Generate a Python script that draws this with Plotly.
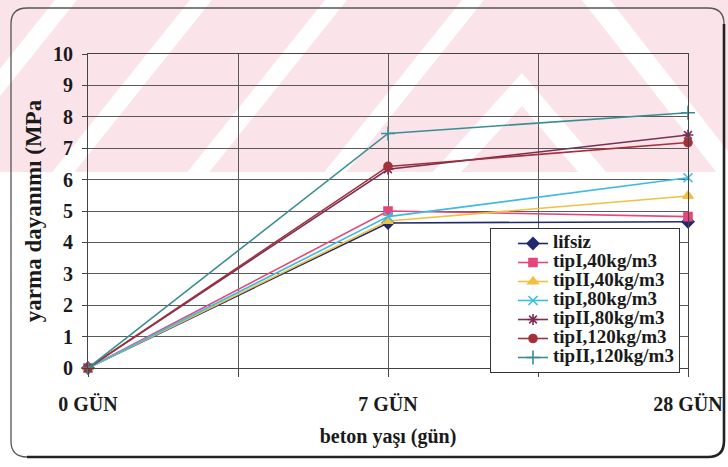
import plotly.graph_objects as go

# Splitting tensile strength of concrete vs. age, per fibre type and dosage
ages = [0, 1, 2]
age_labels = ["0 GÜN", "7 GÜN", "28 GÜN"]

lifsiz = [0.0, 4.62, 4.66]
tip1_40 = [0.0, 5.00, 4.82]
tip2_40 = [0.0, 4.68, 5.48]
tip1_80 = [0.0, 4.82, 6.06]
tip2_80 = [0.0, 6.33, 7.42]
tip1_120 = [0.0, 6.42, 7.18]
tip2_120 = [0.0, 7.47, 8.13]

series = [
    ("lifsiz", lifsiz, "#1f2a6e", "diamond", 9),
    ("tipI,40kg/m3", tip1_40, "#e5467c", "square", 8),
    ("tipII,40kg/m3", tip2_40, "#f0c040", "triangle-up", 9),
    ("tipI,80kg/m3", tip1_80, "#3cbde0", "x-thin", 9),
    ("tipII,80kg/m3", tip2_80, "#7a2f55", "asterisk", 9),
    ("tipI,120kg/m3", tip1_120, "#a3303a", "circle", 8),
    ("tipII,120kg/m3", tip2_120, "#3a8e92", "cross-thin", 10),
]

W, H = 728, 467
ML, MR, MT, MB = 88, 40, 54, 99
PW, PH = W - ML - MR, H - MT - MB


def px(x, y):
    """Pixel position on the page -> paper coordinates of the plot area."""
    return (x - ML) / PW, (H - MB - y) / PH


def poly(points):
    parts = []
    for i, (x, y) in enumerate(points):
        u, v = px(x, y)
        parts.append(("M" if i == 0 else "L") + f"{u:.5f},{v:.5f}")
    return " ".join(parts) + " Z"


SERIF = "Liberation Serif"
INK = "#1a1a1a"
LEGEND_TEXT_PX = 19

fig = go.Figure()
for name, vals, color, symbol, size in series:
    fig.add_trace(go.Scatter(
        x=ages, y=vals, mode="lines+markers",
        name=f'<span style="font-size:{LEGEND_TEXT_PX}px">{name}</span>',
        line=dict(color=color, width=1.6),
        marker=dict(symbol=symbol, size=size, color=color,
                    line=dict(color=color, width=1.6)),
        cliponaxis=False,
    ))

shapes = []
# pale pink background band crossed by white diagonal bands
band_top, band_bot = 0, 172
shapes.append(dict(type="path", path=poly([(0, band_top), (W, band_top), (W, band_bot), (0, band_bot)]),
                   xref="paper", yref="paper", fillcolor="#fae4e9", line=dict(width=0), layer="below"))
slope = 0.8
sw = 22
for x0 in [55, 190, 325, 462]:
    shapes.append(dict(type="path",
                       path=poly([(x0, band_top), (x0 + sw, band_top),
                                  (x0 + sw - slope * band_bot, band_bot), (x0 - slope * band_bot, band_bot)]),
                       xref="paper", yref="paper", fillcolor="white", line=dict(width=0), layer="below"))
# chevron and right-hand diagonal
apx, apy = 522, 73
shapes.append(dict(type="path",
                   path=poly([(apx, apy), (apx + 0.85 * (band_bot - apy), band_bot),
                              (apx + 0.85 * (band_bot - apy) - 28, band_bot), (apx, apy + 33),
                              (apx - 0.9 * (band_bot - apy) + 28, band_bot), (apx - 0.9 * (band_bot - apy), band_bot)]),
                   xref="paper", yref="paper", fillcolor="white", line=dict(width=0), layer="below"))
shapes.append(dict(type="path",
                   path=poly([(582, band_top), (610, band_top), (610 + 0.78 * band_bot, band_bot),
                              (582 + 0.78 * band_bot, band_bot)]),
                   xref="paper", yref="paper", fillcolor="white", line=dict(width=0), layer="below"))

# rounded outer frame
fx0, fy0, fx1, fy1, r = 11, 8, 724, 457, 16
(a0, b0) = px(fx0, fy0)
(a1, b1) = px(fx1, fy1)
rx, ry = r / PW, r / PH
frame = (f"M{a0 + rx},{b0} L{a1 - rx},{b0} Q{a1},{b0} {a1},{b0 - ry} "
         f"L{a1},{b1 + ry} Q{a1},{b1} {a1 - rx},{b1} L{a0 + rx},{b1} "
         f"Q{a0},{b1} {a0},{b1 + ry} L{a0},{b0 - ry} Q{a0},{b0} {a0 + rx},{b0} Z")
shapes.append(dict(type="path", path=frame, xref="paper", yref="paper",
                   line=dict(color="#555555", width=1.3), layer="above"))
shapes.append(dict(type="path",
                   path=f"M{a1},{b0 - ry} L{a1},{b1 + ry} Q{a1},{b1} {a1 - rx},{b1} L{a0 + rx},{b1}",
                   xref="paper", yref="paper", line=dict(color="#222222", width=2.6), layer="above"))

fig.update_layout(
    width=W, height=H,
    margin=dict(l=ML, r=MR, t=MT, b=MB, autoexpand=False),
    paper_bgcolor="white",
    plot_bgcolor="rgba(0,0,0,0)",
    font=dict(family=SERIF, color=INK, size=16, weight="bold"),
    shapes=shapes,
    showlegend=True,
    legend=dict(
        x=(490 - ML) / PW, y=(H - MB - 228) / PH, xanchor="left", yanchor="top",
        bgcolor="white", bordercolor="#333333", borderwidth=1,
        font=dict(family=SERIF, size=10.5, color=INK, weight="bold"),
        tracegroupgap=0, itemwidth=30, indentation=22,
    ),
    xaxis=dict(
        range=[0, 2], tickvals=[0, 0.5, 1, 1.5, 2],
        ticktext=[age_labels[0], "", age_labels[1], "", age_labels[2]],
        ticks="outside", ticklen=8, tickcolor="#444444",
        showgrid=True, gridcolor="#5a5a5a", gridwidth=1,
        showline=True, linecolor="#444444", linewidth=1, mirror=True,
        zeroline=False, ticklabelstandoff=10,
        tickfont=dict(family=SERIF, size=20, color=INK, weight="bold"),
        title=dict(text="beton yaşı (gün)", standoff=14,
                   font=dict(family=SERIF, size=20, color=INK, weight="bold")),
    ),
    yaxis=dict(
        range=[0, 10], tickvals=list(range(0, 11)),
        ticks="outside", ticklen=5, tickcolor="#444444",
        showgrid=True, gridcolor="#5a5a5a", gridwidth=1,
        showline=True, linecolor="#444444", linewidth=1, mirror=True,
        zeroline=False, ticklabelstandoff=5,
        tickfont=dict(family=SERIF, size=20, color=INK, weight="bold"),
        title=dict(text="yarma dayanımı (MPa", standoff=4,
                   font=dict(family=SERIF, size=23, color=INK, weight="bold")),
    ),
)

fig.write_html("out.html")
